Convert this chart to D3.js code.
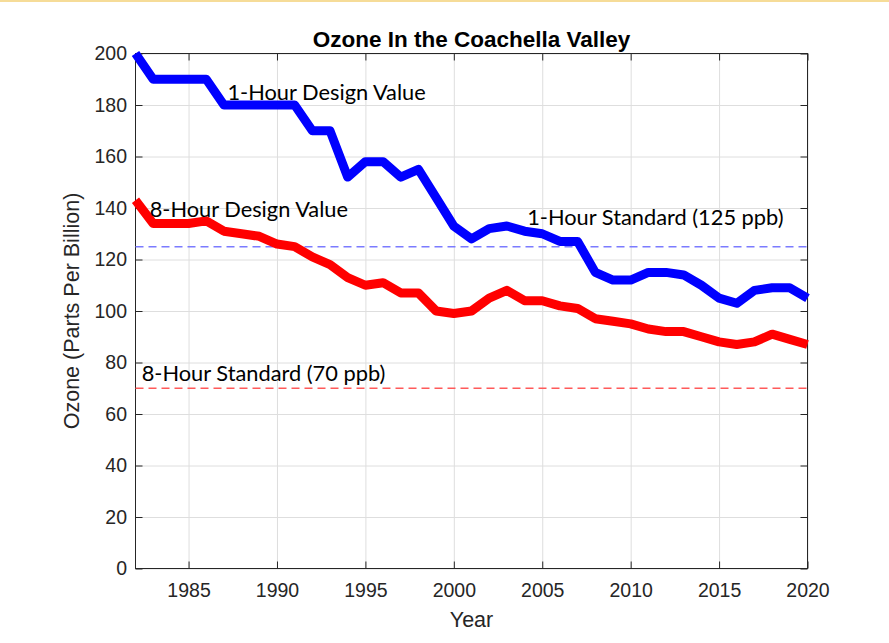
<!DOCTYPE html>
<html>
<head>
<meta charset="utf-8">
<script src="https://cdn.jsdelivr.net/npm/d3@7"></script>
<style>
  html, body { margin: 0; padding: 0; background: #fff; }
  svg { display: block; }
</style>
</head>
<body>
<div id="chart"></div>
<script>
// Ozone design values, Coachella Valley, 1982–2020 (ppb)
const years = d3.range(1982, 2021)
const oneHour = [200, 190, 190, 190, 190, 180, 180, 180, 180, 180, 170, 170, 152, 158, 158, 152, 155, 144, 133, 128,
  132, 133, 131, 130, 127, 127, 115, 112, 112, 115, 115, 114, 110, 105, 103, 108, 109, 109, 105]
const eightHour = [143, 134, 134, 134, 135, 131, 130, 129, 126, 125, 121, 118, 113, 110, 111, 107, 107, 100, 99, 100,
  105, 108, 104, 104, 102, 101, 97, 96, 95, 93, 92, 92, 90, 88, 87, 88, 91, 89, 87]
const standards = [
  { name: "1-Hour Standard (125 ppb)", value: 125, color: "#7b7bff" },
  { name: "8-Hour Standard (70 ppb)", value: 70, color: "#ff5a5a" },
]
const xTicks = [1985, 1990, 1995, 2000, 2005, 2010, 2015, 2020]
const yTicks = [0, 20, 40, 60, 80, 100, 120, 140, 160, 180, 200]

const W = 889, H = 643
const margin = { top: 53.5, right: 81.5, bottom: 74.5, left: 135.5 }
const iw = W - margin.left - margin.right
const ih = H - margin.top - margin.bottom
const axisColor = "#262626"
const tickFont = "'Liberation Sans', Arial, sans-serif"
const noteFont = "Lato, 'Open Sans', sans-serif"

const svg = d3.select("#chart").append("svg")
  .attr("width", W).attr("height", H)

svg.append("rect").attr("width", W).attr("height", H).attr("fill", "#fff")
// bande jaune pâle en haut (cadre de la capture)
svg.append("rect").attr("width", W).attr("height", 2).attr("fill", "#f6dc98")

const x = d3.scaleLinear().domain([1982, 2020]).range([0, iw])
const y = d3.scaleLinear().domain([0, 200]).range([ih, 0])

const g = svg.append("g").attr("transform", `translate(${margin.left},${margin.top})`)

// Grille
g.append("g")
  .call(d3.axisBottom(x).tickValues(xTicks).tickSize(ih).tickFormat(""))
  .call((s) => s.select(".domain").remove())
  .selectAll("line").attr("stroke", "#dedede").attr("stroke-width", 1)
g.append("g")
  .call(d3.axisLeft(y).tickValues(yTicks).tickSize(-iw).tickFormat(""))
  .call((s) => s.select(".domain").remove())
  .selectAll("line").attr("stroke", "#dedede").attr("stroke-width", 1)

// Axes (ticks vers l'intérieur, style MATLAB)
const styleAxis = (s) => {
  s.select(".domain").remove()
  s.selectAll("line").attr("stroke", axisColor)
  s.selectAll("text").attr("fill", axisColor)
    .attr("font-family", tickFont).attr("font-size", 19.5)
}
g.append("g").attr("transform", `translate(0,${ih})`)
  .call(d3.axisBottom(x).tickValues(xTicks).tickSize(-7).tickPadding(15).tickFormat(d3.format("d")))
  .call(styleAxis)
g.append("g")
  .call(d3.axisTop(x).tickValues(xTicks).tickSize(-7).tickFormat(""))
  .call(styleAxis)
g.append("g")
  .call(d3.axisLeft(y).tickValues(yTicks).tickSize(-7).tickPadding(8.5))
  .call(styleAxis)
g.append("g").attr("transform", `translate(${iw},0)`)
  .call(d3.axisRight(y).tickValues(yTicks).tickSize(-7).tickFormat(""))
  .call(styleAxis)

// Cadre
g.append("rect")
  .attr("width", iw).attr("height", ih)
  .attr("fill", "none").attr("stroke", axisColor).attr("stroke-width", 1)

// Normes (tirets)
g.selectAll("line.std")
  .data(standards)
  .join("line")
  .attr("class", "std")
  .attr("x1", 0).attr("x2", iw)
  .attr("y1", (d) => y(d.value)).attr("y2", (d) => y(d.value))
  .attr("stroke", (d) => d.color).attr("stroke-width", 1.5)
  .attr("stroke-dasharray", "8,5")

// Séries
const line = d3.line().x((d) => x(d[0])).y((d) => y(d[1]))
const series = [
  { values: oneHour, color: "#0000ff" },
  { values: eightHour, color: "#ff0000" },
]
series.forEach((s) => {
  g.append("path")
    .datum(years.map((yr, i) => [yr, s.values[i]]))
    .attr("d", line)
    .attr("fill", "none")
    .attr("stroke", s.color).attr("stroke-width", 9)
    .attr("stroke-linejoin", "round").attr("stroke-linecap", "butt")
})

// Annotations
const notes = [
  { text: "1-Hour Design Value", year: 1987.2, value: 182 },
  { text: "8-Hour Design Value", year: 1982.8, value: 136.5 },
  { text: standards[0].name, year: 2004.15, value: 133.3 },
  { text: standards[1].name, year: 1982.35, value: 73 },
]
g.selectAll("text.note")
  .data(notes)
  .join("text")
  .attr("class", "note")
  .attr("x", (d) => x(d.year)).attr("y", (d) => y(d.value))
  .attr("fill", "#000")
  .attr("font-family", noteFont).attr("font-size", 21.8)
  .text((d) => d.text)

// Titre et libellés
svg.append("text")
  .attr("x", margin.left + iw / 2).attr("y", 46.5)
  .attr("text-anchor", "middle")
  .attr("fill", "#000").attr("font-family", tickFont)
  .attr("font-size", 22.5).attr("font-weight", "bold")
  .text("Ozone In the Coachella Valley")

svg.append("text")
  .attr("x", margin.left + iw / 2).attr("y", 627)
  .attr("text-anchor", "middle")
  .attr("fill", axisColor).attr("font-family", tickFont).attr("font-size", 21.5)
  .text("Year")

svg.append("text")
  .attr("transform", `translate(79,${margin.top + ih / 2}) rotate(-90)`)
  .attr("text-anchor", "middle")
  .attr("fill", axisColor).attr("font-family", tickFont).attr("font-size", 21.5)
  .text("Ozone (Parts Per Billion)")
</script>
</body>
</html>
